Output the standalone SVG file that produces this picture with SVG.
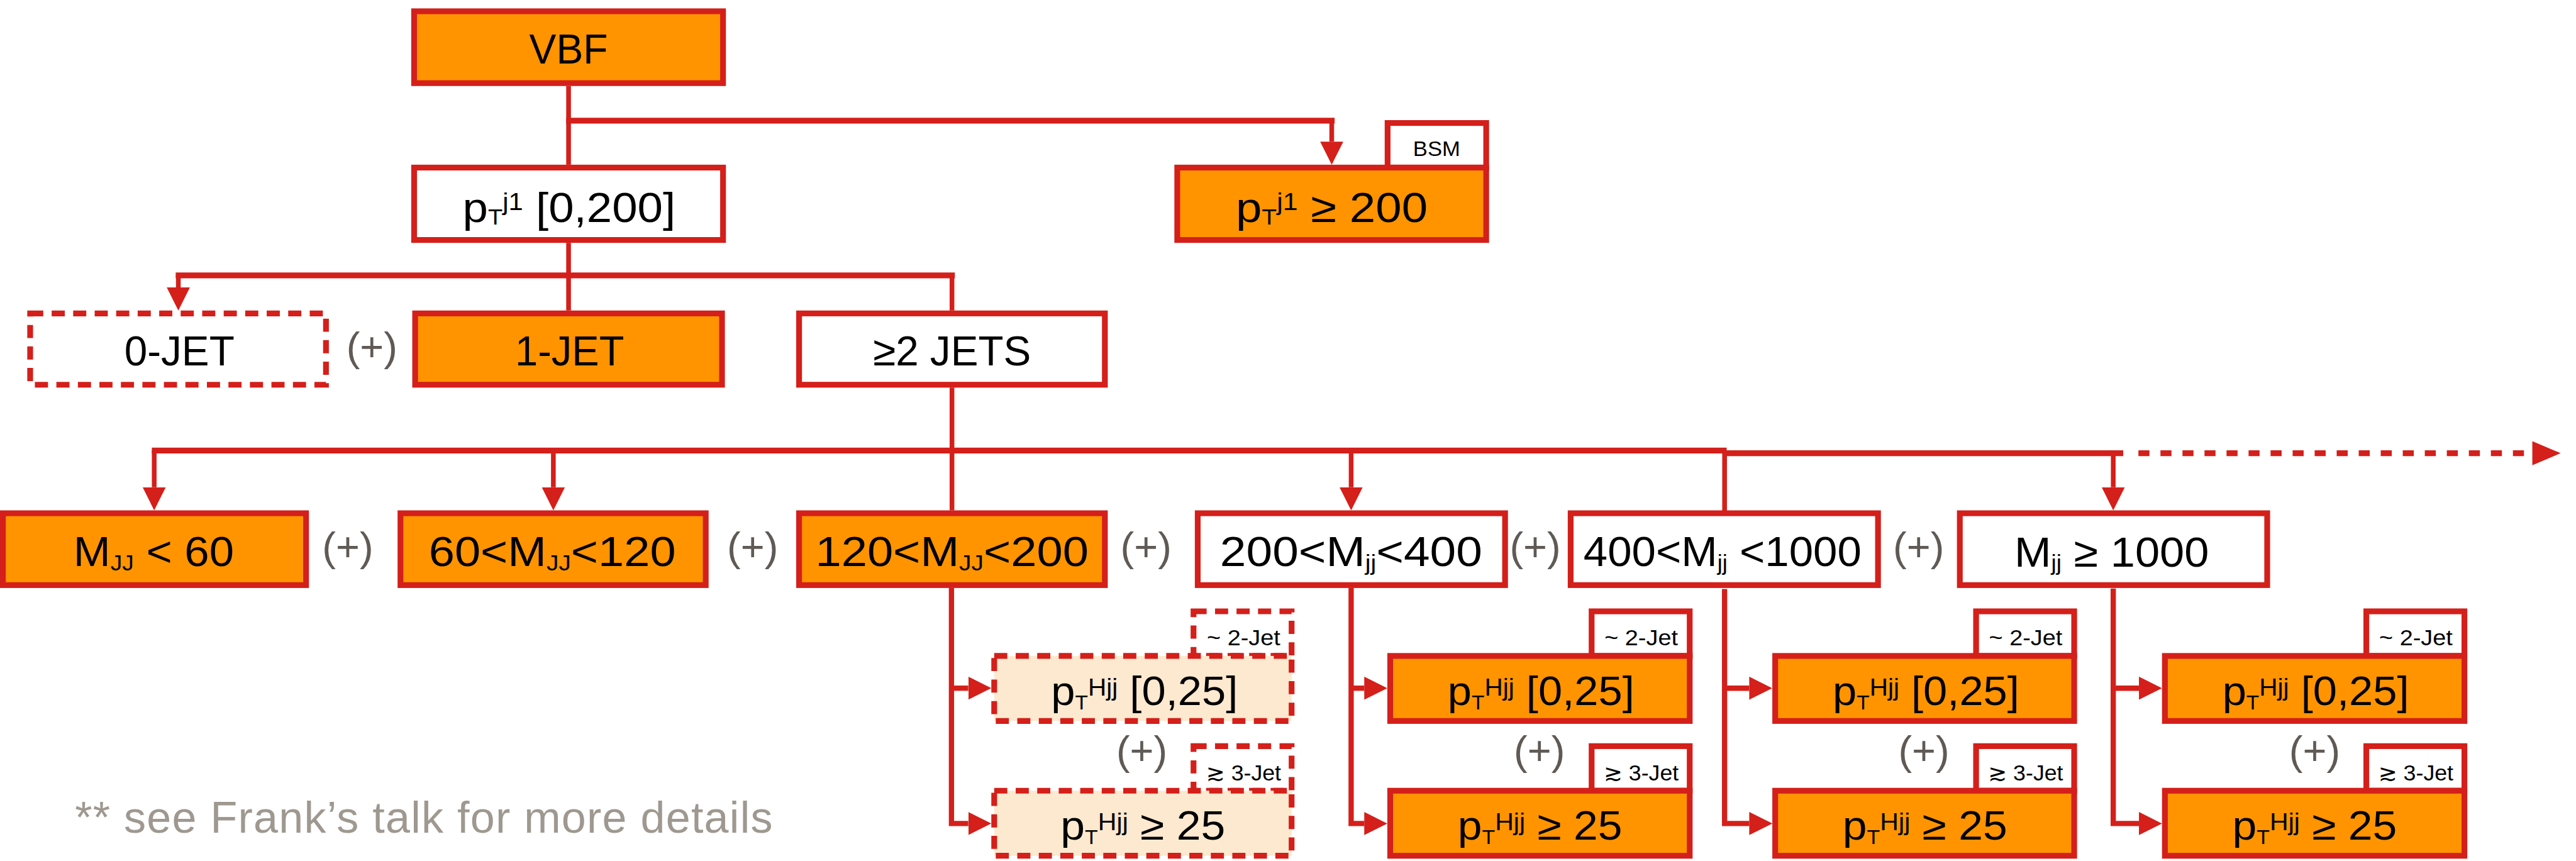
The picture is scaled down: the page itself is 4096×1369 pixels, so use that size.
<svg xmlns="http://www.w3.org/2000/svg" width="4096" height="1369" viewBox="0 0 4096 1369">
<defs>
<style>
.ln{stroke:#d41f1a;fill:none;stroke-width:9}
.bar{stroke:#d41f1a;fill:none;stroke-width:11}
.cl{stroke:#d41f1a;fill:none;stroke-width:10}
.box{stroke:#d41f1a;stroke-width:11}
.or{fill:#ff9400}
.wh{fill:#ffffff}
.lt{fill:#fde9cf}
.dash{stroke-dasharray:25 16}
.t{font-family:"Liberation Sans",Arial,"DejaVu Sans",sans-serif;fill:#000;text-anchor:middle;font-size:80px}
.s{font-size:78px}
.sm{font-size:43px}
.bsm{font-size:40px}
.sub{font-size:42px}
.plus{font-family:"Liberation Sans",Arial,sans-serif;font-size:78px;fill:#5f5a55;text-anchor:middle}
.note{font-family:"Liberation Sans",Arial,sans-serif;font-size:84px;fill:#9e9890}
</style>
<marker id="ah" viewBox="0 0 44 44" refX="0" refY="22" markerWidth="44" markerHeight="44" markerUnits="userSpaceOnUse" orient="auto">
<path d="M0,0 L44,22 L0,44 Z" fill="#d41f1a"/>
</marker>
</defs>
<g transform="scale(0.834)">
<g id="connectors">
<path class="bar" d="M1079.5,230 H2544.5"/>
<path class="ln" d="M1084,164 V314"/>
<path class="ln" d="M2539,230 V270" marker-end="url(#ah)"/>
<path class="ln" d="M1084,463 V592"/>
<path class="bar" d="M335,525 H1820.5"/>
<path class="ln" d="M340,525 V548" marker-end="url(#ah)"/>
<path class="ln" d="M1815,525 V592"/>
<path class="ln" d="M1815,739 V973"/>
<path class="bar" d="M289.5,859 H3292"/>
<path class="bar" d="M3288,864 H4048"/>
<path class="bar" d="M4077,864 H4830" stroke-dasharray="21 21"/>
<path d="M4828,841 L4882,864 L4828,887 Z" fill="#d41f1a"/>
<path class="ln" d="M294,859 V929" marker-end="url(#ah)"/>
<path class="ln" d="M1055,859 V929" marker-end="url(#ah)"/>
<path class="ln" d="M2576,859 V929" marker-end="url(#ah)"/>
<path class="ln" d="M3288,859 V975"/>
<path class="ln" d="M4029,864 V929" marker-end="url(#ah)"/>
<path class="cl" d="M1814,1121 V1570 H1846" marker-end="url(#ah)"/>
<path class="cl" d="M1814,1312 H1846" marker-end="url(#ah)"/>
<path class="cl" d="M2576,1121 V1570 H2601" marker-end="url(#ah)"/>
<path class="cl" d="M2576,1312 H2601" marker-end="url(#ah)"/>
<path class="cl" d="M3288,1123 V1570 H3335" marker-end="url(#ah)"/>
<path class="cl" d="M3288,1312 H3335" marker-end="url(#ah)"/>
<path class="cl" d="M4029,1122 V1570 H4078" marker-end="url(#ah)"/>
<path class="cl" d="M4029,1312 H4078" marker-end="url(#ah)"/>
</g>

<g id="vbf"><rect class="box or" x="789.5" y="21.5" width="589" height="137"/><text class="t" x="1084" y="121" textLength="150" lengthAdjust="spacingAndGlyphs">VBF</text></g>
<g id="ptj1-low"><rect class="box wh" x="789.5" y="319.5" width="589" height="138"/><text class="t" x="1085" y="423" textLength="406" lengthAdjust="spacingAndGlyphs">p<tspan font-size="42" dy="5">T</tspan><tspan font-size="46" dy="-28">j1</tspan><tspan dy="23"> [0,200]</tspan></text></g>
<g id="bsm-tag"><rect class="box wh" x="2645.5" y="234.5" width="188" height="85"/><text class="t bsm" x="2739" y="297" textLength="90" lengthAdjust="spacingAndGlyphs">BSM</text></g>
<g id="ptj1-high"><rect class="box or" x="2244.5" y="319.5" width="589" height="138"/><text class="t" x="2539" y="423" textLength="366" lengthAdjust="spacingAndGlyphs">p<tspan font-size="42" dy="5">T</tspan><tspan font-size="46" dy="-28">j1</tspan><tspan dy="23"> ≥ 200</tspan></text></g>

<g id="jet0"><rect class="box wh dash" x="57.5" y="597.5" width="564" height="136"/><text class="t" x="342" y="697" textLength="210" lengthAdjust="spacingAndGlyphs">0-JET</text></g>
<g id="jet1"><rect class="box or" x="791.5" y="597.5" width="585" height="136"/><text class="t" x="1086" y="697" textLength="208" lengthAdjust="spacingAndGlyphs">1-JET</text></g>
<g id="jet2"><rect class="box wh" x="1523.5" y="597.5" width="583" height="136"/><text class="t" x="1815" y="697" textLength="301" lengthAdjust="spacingAndGlyphs">≥2 JETS</text></g>
<text class="plus" x="709" y="688">(+)</text>

<g id="mjj-60"><rect class="box or" x="5.5" y="978.5" width="578" height="137"/><text class="t" x="293" y="1079" textLength="306" lengthAdjust="spacingAndGlyphs">M<tspan class="sub" dy="8">JJ</tspan><tspan dy="-8"> &lt; 60</tspan></text></g>
<g id="mjj-60-120"><rect class="box or" x="763.5" y="978.5" width="582" height="137"/><text class="t" x="1053" y="1079" textLength="471" lengthAdjust="spacingAndGlyphs">60&lt;M<tspan class="sub" dy="8">JJ</tspan><tspan dy="-8">&lt;120</tspan></text></g>
<g id="mjj-120-200"><rect class="box or" x="1523.5" y="978.5" width="583" height="137"/><text class="t" x="1815" y="1079" textLength="521" lengthAdjust="spacingAndGlyphs">120&lt;M<tspan class="sub" dy="8">JJ</tspan><tspan dy="-8">&lt;200</tspan></text></g>
<g id="mjj-200-400"><rect class="box wh" x="2283.5" y="978.5" width="586" height="137"/><text class="t" x="2576" y="1079" textLength="500" lengthAdjust="spacingAndGlyphs">200&lt;M<tspan class="sub" dy="8">jj</tspan><tspan dy="-8">&lt;400</tspan></text></g>
<g id="mjj-400-1000"><rect class="box wh" x="2994.5" y="978.5" width="586" height="137"/><text class="t" x="3284" y="1079" textLength="530" lengthAdjust="spacingAndGlyphs">400&lt;M<tspan class="sub" dy="8">jj</tspan><tspan dy="-8"> &lt;1000</tspan></text></g>
<g id="mjj-1000"><rect class="box wh" x="3736.5" y="978.5" width="586" height="137"/><text class="t" x="4026" y="1080" textLength="371" lengthAdjust="spacingAndGlyphs">M<tspan class="sub" dy="8">jj</tspan><tspan dy="-8"> ≥ 1000</tspan></text></g>
<text class="plus" x="663" y="1070">(+)</text>
<text class="plus" x="1435" y="1070">(+)</text>
<text class="plus" x="2185" y="1070">(+)</text>
<text class="plus" x="2927" y="1070">(+)</text>
<text class="plus" x="3658" y="1070">(+)</text>

<g id="c1-tag2"><rect class="box wh dash" x="2275.5" y="1165.5" width="187" height="85"/><text class="t sm" x="2371" y="1230" textLength="140" lengthAdjust="spacingAndGlyphs">~ 2-Jet</text></g>
<g id="c1-low"><rect class="box lt dash" x="1895.5" y="1250.5" width="567" height="124"/><text class="t s" x="2182" y="1344" textLength="356" lengthAdjust="spacingAndGlyphs">p<tspan font-size="38" dy="8">T</tspan><tspan font-size="46" dy="-26">Hjj</tspan><tspan dy="18"> [0,25]</tspan></text></g>
<g id="c1-tag3"><rect class="box wh dash" x="2275.5" y="1422.5" width="187" height="85"/><text class="t sm" x="2371" y="1488" textLength="143" lengthAdjust="spacingAndGlyphs">≳ 3-Jet</text></g>
<g id="c1-high"><rect class="box lt dash" x="1895.5" y="1507.5" width="567" height="124"/><text class="t s" x="2179" y="1601" textLength="314" lengthAdjust="spacingAndGlyphs">p<tspan font-size="38" dy="8">T</tspan><tspan font-size="46" dy="-26">Hjj</tspan><tspan dy="18"> ≥ 25</tspan></text></g>
<text class="plus" x="2177" y="1458">(+)</text>

<g id="c2-tag2"><rect class="box wh" x="3034.5" y="1165.5" width="187" height="85"/><text class="t sm" x="3129" y="1230" textLength="140" lengthAdjust="spacingAndGlyphs">~ 2-Jet</text></g>
<g id="c2-low"><rect class="box or" x="2650.5" y="1250.5" width="571" height="124"/><text class="t s" x="2938" y="1344" textLength="356" lengthAdjust="spacingAndGlyphs">p<tspan font-size="38" dy="8">T</tspan><tspan font-size="46" dy="-26">Hjj</tspan><tspan dy="18"> [0,25]</tspan></text></g>
<g id="c2-tag3"><rect class="box wh" x="3034.5" y="1422.5" width="187" height="85"/><text class="t sm" x="3129" y="1488" textLength="143" lengthAdjust="spacingAndGlyphs">≳ 3-Jet</text></g>
<g id="c2-high"><rect class="box or" x="2650.5" y="1507.5" width="571" height="124"/><text class="t s" x="2936" y="1601" textLength="314" lengthAdjust="spacingAndGlyphs">p<tspan font-size="38" dy="8">T</tspan><tspan font-size="46" dy="-26">Hjj</tspan><tspan dy="18"> ≥ 25</tspan></text></g>
<text class="plus" x="2935" y="1458">(+)</text>

<g id="c3-tag2"><rect class="box wh" x="3767.5" y="1165.5" width="187" height="85"/><text class="t sm" x="3862" y="1230" textLength="140" lengthAdjust="spacingAndGlyphs">~ 2-Jet</text></g>
<g id="c3-low"><rect class="box or" x="3384.5" y="1250.5" width="570" height="124"/><text class="t s" x="3672" y="1344" textLength="356" lengthAdjust="spacingAndGlyphs">p<tspan font-size="38" dy="8">T</tspan><tspan font-size="46" dy="-26">Hjj</tspan><tspan dy="18"> [0,25]</tspan></text></g>
<g id="c3-tag3"><rect class="box wh" x="3767.5" y="1422.5" width="187" height="85"/><text class="t sm" x="3862" y="1488" textLength="143" lengthAdjust="spacingAndGlyphs">≳ 3-Jet</text></g>
<g id="c3-high"><rect class="box or" x="3384.5" y="1507.5" width="570" height="124"/><text class="t s" x="3670" y="1601" textLength="314" lengthAdjust="spacingAndGlyphs">p<tspan font-size="38" dy="8">T</tspan><tspan font-size="46" dy="-26">Hjj</tspan><tspan dy="18"> ≥ 25</tspan></text></g>
<text class="plus" x="3668" y="1458">(+)</text>

<g id="c4-tag2"><rect class="box wh" x="4511.5" y="1165.5" width="187" height="85"/><text class="t sm" x="4606" y="1230" textLength="140" lengthAdjust="spacingAndGlyphs">~ 2-Jet</text></g>
<g id="c4-low"><rect class="box or" x="4127.5" y="1250.5" width="571" height="124"/><text class="t s" x="4415" y="1344" textLength="356" lengthAdjust="spacingAndGlyphs">p<tspan font-size="38" dy="8">T</tspan><tspan font-size="46" dy="-26">Hjj</tspan><tspan dy="18"> [0,25]</tspan></text></g>
<g id="c4-tag3"><rect class="box wh" x="4511.5" y="1422.5" width="187" height="85"/><text class="t sm" x="4606" y="1488" textLength="143" lengthAdjust="spacingAndGlyphs">≳ 3-Jet</text></g>
<g id="c4-high"><rect class="box or" x="4127.5" y="1507.5" width="571" height="124"/><text class="t s" x="4413" y="1601" textLength="314" lengthAdjust="spacingAndGlyphs">p<tspan font-size="38" dy="8">T</tspan><tspan font-size="46" dy="-26">Hjj</tspan><tspan dy="18"> ≥ 25</tspan></text></g>
<text class="plus" x="4413" y="1458">(+)</text>

<text class="note" x="143" y="1587" textLength="1330" lengthAdjust="spacing">** see Frank’s talk for more details</text>
</g>
</svg>
